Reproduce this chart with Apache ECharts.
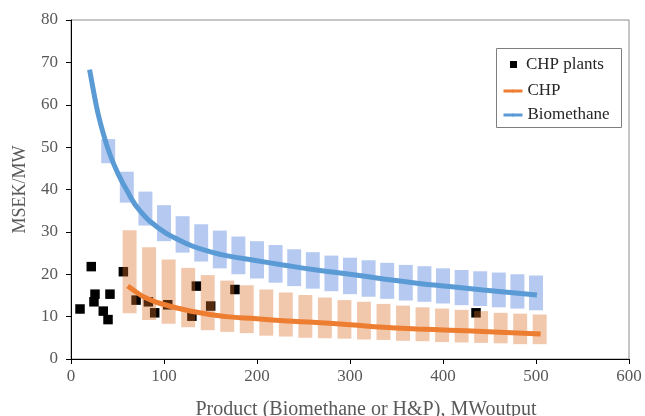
<!DOCTYPE html>
<html><head><meta charset="utf-8">
<script src="https://cdn.jsdelivr.net/npm/echarts@6/dist/echarts.min.js"></script>
<style>html,body{margin:0;padding:0;background:#fff}#c{width:645px;height:416px}</style>
</head><body><div id="c"></div>
<script>
// Axis ticks
const xTicks = [0, 100, 200, 300, 400, 500, 600];
const yTicks = [0, 10, 20, 30, 40, 50, 60, 70, 80];

// Biomethane cost ranges (shaded boxes)
const bioBoxX    = [40, 60, 80, 100, 120, 140, 160, 180, 200, 220, 240, 260, 280, 300, 320, 340, 360, 380, 400, 420, 440, 460, 480, 500];
const bioBoxLow  = [46.2, 36.9, 31.5, 27.8, 25.1, 23.0, 21.4, 20.0, 19.0, 18.0, 17.2, 16.6, 16.0, 15.3, 14.7, 14.2, 13.8, 13.5, 13.1, 12.7, 12.5, 12.2, 11.9, 11.5];
const bioBoxHigh = [51.9, 44.2, 39.5, 36.3, 33.7, 31.8, 30.3, 28.9, 27.8, 26.9, 25.9, 25.2, 24.4, 23.9, 23.3, 22.7, 22.2, 21.9, 21.4, 21.0, 20.7, 20.4, 20.0, 19.7];

// CHP cost ranges (shaded boxes)
const chpBoxX    = [63, 84, 105, 126, 147, 168, 189, 210, 231, 252, 273, 294, 315, 336, 357, 378, 399, 420, 441, 462, 483, 504];
const chpBoxLow  = [10.8, 9.2, 8.3, 7.5, 6.8, 6.4, 6.1, 5.5, 5.3, 5.0, 4.9, 4.8, 4.6, 4.5, 4.3, 4.2, 4.0, 3.9, 3.8, 3.7, 3.5, 3.5];
const chpBoxHigh = [30.4, 26.4, 23.5, 21.5, 19.8, 18.5, 17.4, 16.4, 15.7, 15.1, 14.5, 13.9, 13.5, 13.0, 12.6, 12.2, 11.9, 11.6, 11.3, 10.9, 10.7, 10.5];

// Biomethane curve
const bioLineX = [20, 24, 29, 35, 42, 50, 60, 74, 96, 114, 131, 150, 167, 200, 228, 264, 300, 336, 372, 407, 443, 501];
const bioLineY = [68.3, 63.5, 58.0, 53.0, 48.2, 44.0, 39.8, 35.0, 30.6, 28.3, 26.6, 25.3, 24.4, 23.2, 22.2, 21.0, 20.0, 18.9, 17.9, 17.1, 16.3, 15.1];

// CHP curve
const chpLineX = [61, 70, 78, 96, 131, 167, 200, 228, 264, 300, 336, 372, 407, 443, 505];
const chpLineY = [17.2, 15.8, 14.7, 13.1, 11.2, 10.0, 9.5, 9.0, 8.6, 8.1, 7.5, 7.1, 6.8, 6.5, 5.9];

// Existing CHP plants
const plantX = [9.7, 21.8, 25.8, 24.7, 41.9, 34.7, 39.8, 56.3, 70, 83.2, 90, 104, 134.8, 150.2, 130, 176.3, 435.5];
const plantY = [11.8, 21.8, 15.3, 13.5, 15.3, 11.3, 9.3, 20.6, 13.9, 13.5, 10.9, 12.8, 17.2, 12.5, 10.1, 16.4, 10.9];

const FONT = 'Liberation Serif';
const zip = (a, b) => a.map((v, i) => [v, b[i]]);

function boxSeries(name, xs, lows, highs, color) {
  return {
    type: 'custom', name: name, silent: true, z: 3,
    data: xs.map((x, i) => [x, lows[i], highs[i]]),
    encode: { x: 0, y: [1, 2] },
    renderItem: function (params, api) {
      const lo = api.coord([api.value(0), api.value(1)]);
      const hi = api.coord([api.value(0), api.value(2)]);
      const w = api.size([15, 0])[0];
      return { type: 'rect', shape: { x: lo[0] - w / 2, y: hi[1], width: w, height: lo[1] - hi[1] }, style: { fill: color } };
    }
  };
}

const chart = echarts.init(document.getElementById('c'), null, { renderer: 'canvas' });
chart.setOption({
  animation: false,
  backgroundColor: '#fff',
  grid: { left: 71, right: 16, top: 20, bottom: 57, containLabel: false, outerBoundsMode: 'none', show: true, borderColor: '#8c8c8c', borderWidth: 1 },
  xAxis: {
    type: 'value', min: xTicks[0], max: xTicks[xTicks.length - 1], interval: xTicks[1] - xTicks[0],
    axisLine: { lineStyle: { color: '#000', width: 1 } },
    axisTick: { show: true, length: 5, lineStyle: { color: '#000' } },
    splitLine: { show: false },
    axisLabel: { fontFamily: FONT, fontSize: 17, color: '#595959', margin: 9 },
    name: 'Product (Biomethane or H&P), MWoutput', nameLocation: 'middle', nameGap: 41,
    nameTextStyle: { fontFamily: FONT, fontSize: 20, color: '#595959', padding: [0, 0, 0, 32] }
  },
  yAxis: {
    type: 'value', min: yTicks[0], max: yTicks[yTicks.length - 1], interval: yTicks[1] - yTicks[0],
    axisLine: { show: true, lineStyle: { color: '#000', width: 1 } },
    axisTick: { show: true, length: 5, lineStyle: { color: '#000' } },
    splitLine: { show: false },
    axisLabel: { fontFamily: FONT, fontSize: 17, color: '#595959', margin: 13 },
    name: 'MSEK/MW', nameLocation: 'middle', nameGap: 42,
    nameTextStyle: { fontFamily: FONT, fontSize: 18, color: '#595959' }
  },
  legend: [
    {
      data: ['CHP plants'], left: 510, top: 56, padding: 0, itemWidth: 7, itemHeight: 7, icon: 'rect',
      itemStyle: { opacity: 1 },
      textStyle: { fontFamily: FONT, fontSize: 17, color: '#262626', padding: [0, 0, 0, 4] }
    },
    {
      data: ['CHP', 'Biomethane'], orient: 'vertical', left: 502, top: 81, padding: 0, itemWidth: 19, itemHeight: 4, itemGap: 4,
      lineStyle: { width: 3 },
      textStyle: { fontFamily: FONT, fontSize: 17, color: '#262626', lineHeight: 20 }
    }
  ],
  graphic: [
    { type: 'rect', shape: { x: 496.5, y: 48.5, width: 125, height: 79 }, style: { fill: null, stroke: '#7f7f7f', lineWidth: 1 }, z: 100 }
  ],
  series: [
    { type: 'scatter', name: 'CHP plants', data: zip(plantX, plantY), symbol: 'rect', symbolSize: 9.5, itemStyle: { color: '#000', opacity: 1 }, z: 2 },
    boxSeries('CHP range', chpBoxX, chpBoxLow, chpBoxHigh, 'rgba(222,110,40,0.38)'),
    boxSeries('Biomethane range', bioBoxX, bioBoxLow, bioBoxHigh, 'rgba(70,120,220,0.40)'),
    { type: 'line', name: 'CHP', data: zip(chpLineX, chpLineY), smooth: 0.5, symbol: 'none', lineStyle: { color: '#ed7d31', width: 5 }, itemStyle: { color: '#ed7d31' }, z: 4 },
    { type: 'line', name: 'Biomethane', data: zip(bioLineX, bioLineY), smooth: 0.5, symbol: 'none', lineStyle: { color: '#5b9bd5', width: 5 }, itemStyle: { color: '#5b9bd5' }, z: 4 }
  ]
});
</script>
</body></html>
